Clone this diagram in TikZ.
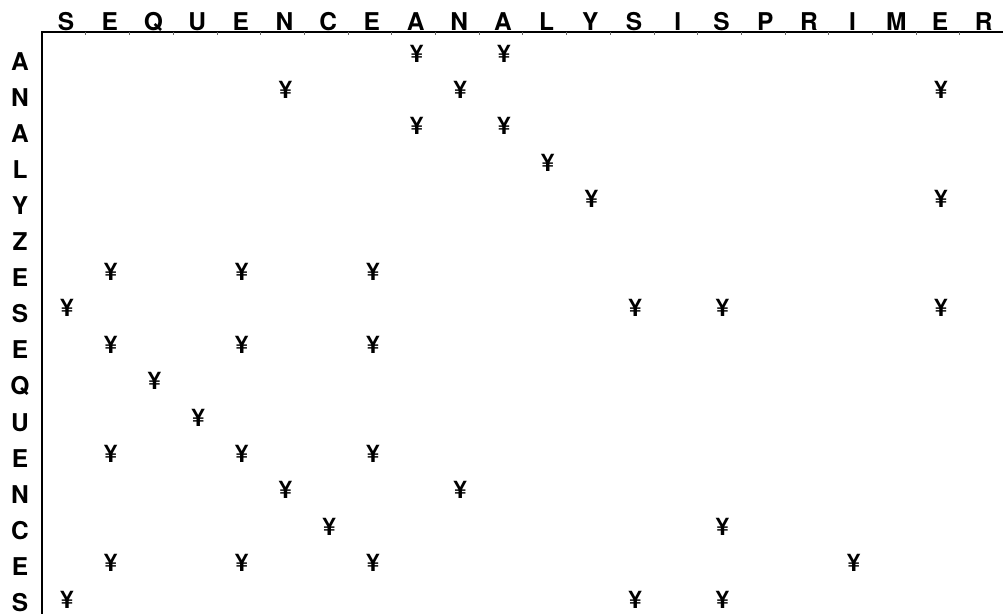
\documentclass[tikz,border=0pt]{standalone}
\usepackage{fontspec}
\setmainfont{TeX Gyre Heros}
\begin{document}
\begin{tikzpicture}[x=1pt,y=-1pt,
  lab/.style={font=\fontsize{24.5}{24.5}\selectfont\bfseries, anchor=base, inner sep=0pt},
  yen/.style={font=\fontsize{24.5}{24.5}\selectfont\bfseries, anchor=base, inner sep=0pt},
  axisline/.style={line width=1.5pt, black},
  tickline/.style={line width=0.5pt, black!60}]
\useasboundingbox (0,0) rectangle (1003,614);
\coordinate (corner) at (42,32);
\coordinate (xend) at (1003,32);
\coordinate (yend) at (42,614);
\draw[axisline] (xend) -- (corner) -- (yend);
\foreach \k in {1,...,21} {
  \coordinate (t\k) at ({42+43.7*\k},32);
  \coordinate (tb\k) at ({42+43.7*\k},35);
  \draw[tickline] (t\k) -- (tb\k);
}
\foreach \L [count=\j from 0] in {S,E,Q,U,E,N,C,E,A,N,A,L,Y,S,I,S,P,R,I,M,E,R}
  \node[lab] (c\j) at ({66+43.7*\j},30) {\L};
\foreach \L [count=\i from 0] in {A,N,A,L,Y,Z,E,S,E,Q,U,E,N,C,E,S}
  \node[lab] (r\i) at (20,{70+36.1*\i}) {\L};
\foreach \r/\c in {0/8,0/10,1/5,1/9,1/20,2/8,2/10,3/11,4/12,4/20,
  6/1,6/4,6/7,7/0,7/13,7/15,7/20,8/1,8/4,8/7,9/2,10/3,11/1,11/4,11/7,
  12/5,12/9,13/6,13/15,14/1,14/4,14/7,14/18,15/0,15/13,15/15}
  \node[yen] (m\r-\c) at ({67+43.7*\c},{62+36.4*\r}) {¥};
\end{tikzpicture}
\end{document}
